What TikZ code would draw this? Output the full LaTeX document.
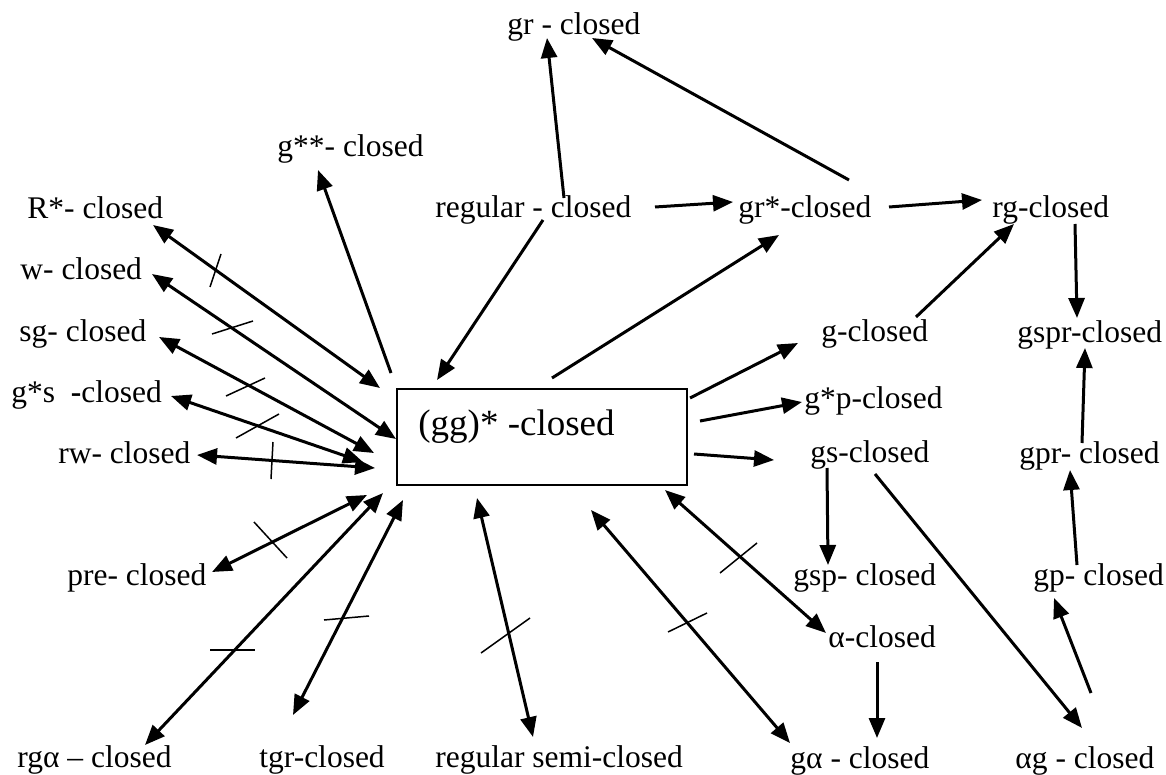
\documentclass[tikz,border=0pt]{standalone}
\usepackage{fontspec}
\setmainfont{Liberation Serif}
\usetikzlibrary{arrows.meta}
\tikzset{
  lbl/.style={font=\fontsize{15.75pt}{18pt}\selectfont, inner sep=0pt, anchor=base west},
  boxtxt/.style={font=\fontsize{18.5pt}{21pt}\selectfont, inner sep=0pt, anchor=base west},
  boxst/.style={draw, line width=1pt, minimum width=145pt, minimum height=48pt, inner sep=0pt},
  arr/.style={line width=1.5pt, -{Triangle[length=10pt,width=8pt]}},
  darr/.style={line width=1.5pt, {Triangle[length=10pt,width=8pt]}-{Triangle[length=10pt,width=8pt]}},
  tick/.style={line width=0.75pt}
}
\begin{document}
\begin{tikzpicture}[x=0.5pt,y=-0.5pt]
\useasboundingbox (0,0) rectangle (1166,775);
% labels
\node[lbl] (Rstar) at (27,219) {R*- closed};
\node[lbl] (w) at (20,279) {w- closed};
\node[lbl] (sg) at (19,341) {sg- closed};
\node[lbl] (gstars) at (11,402) {g*s~~\textbf{-}closed};
\node[lbl] (rw) at (58,463) {rw- closed};
\node[lbl] (pre) at (67,585) {pre- closed};
\node[lbl] (rga) at (17,767) {rgα – closed};
\node[lbl] (tgr) at (259,767) {tgr-closed};
\node[lbl] (rsc) at (435,767) {regular semi-closed};
\node[lbl] (ga) at (790,768) {gα - closed};
\node[lbl] (ag) at (1015,768) {αg - closed};
\node[lbl] (gss) at (277,157) {g**- closed};
\node[lbl] (gr) at (507,35) {gr - closed};
\node[lbl] (reg) at (435,218) {regular - closed};
\node[lbl] (grs) at (738,218) {gr*-closed};
\node[lbl] (rg) at (992,218) {rg-closed};
\node[lbl] (g) at (821,341) {g-closed};
\node[lbl] (gspr) at (1017,342) {gspr-closed};
\node[lbl] (gsp2) at (804,408) {g*p-closed};
\node[lbl] (gs) at (810,462) {gs-closed};
\node[lbl] (gpr) at (1019,463) {gpr- closed};
\node[lbl] (gsp) at (793,585) {gsp- closed};
\node[lbl] (gp) at (1033,585) {gp- closed};
\node[lbl] (alpha) at (828,647) {α-closed};
% central box
\node[boxst] (box) at (542,437) {};
\node[boxtxt] (boxlabel) at (418,435) {(gg)* -closed};
% connector end points
\coordinate (a1) at (153,225); \coordinate (b1) at (380,388);
\coordinate (a2) at (152,274); \coordinate (b2) at (396,439);
\coordinate (a3) at (159,337); \coordinate (b3) at (374,453);
\coordinate (a4) at (171,396); \coordinate (b4) at (363,462);
\coordinate (a5) at (197,455); \coordinate (b5) at (375,468);
\coordinate (a6) at (212,572); \coordinate (b6) at (367,495);
\coordinate (a7) at (145,745); \coordinate (b7) at (383,493);
\coordinate (a8) at (293,715); \coordinate (b8) at (403,500);
\coordinate (a9) at (533,737); \coordinate (b9) at (477,498);
\coordinate (a10) at (790,743); \coordinate (b10) at (591,510);
\coordinate (a11) at (826,633); \coordinate (b11) at (665,490);
% double arrows
\draw[darr] (a1) -- (b1);
\draw[darr] (a2) -- (b2);
\draw[darr] (a3) -- (b3);
\draw[darr] (a4) -- (b4);
\draw[darr] (a5) -- (b5);
\draw[darr] (a6) -- (b6);
\draw[darr] (a7) -- (b7);
\draw[darr] (a8) -- (b8);
\draw[darr] (a9) -- (b9);
\draw[darr] (a10) -- (b10);
\draw[darr] (a11) -- (b11);
% ticks
\draw[tick] (210,287) -- (221,254);
\draw[tick] (212,334) -- (253,321);
\draw[tick] (226,396) -- (265,378);
\draw[tick] (236,438) -- (279,414);
\draw[tick] (271,479) -- (273,442);
\draw[tick] (254,522) -- (287,558);
\draw[tick] (210,650) -- (255,650);
\draw[tick] (324,620) -- (369,616);
\draw[tick] (481,653) -- (530,618);
\draw[tick] (668,632) -- (707,613);
\draw[tick] (720,573) -- (757,543);
% single arrows
\coordinate (s12) at (391,373); \coordinate (t12) at (318,170);
\coordinate (s13) at (543,220); \coordinate (t13) at (437,380);
\coordinate (s14) at (552,378); \coordinate (t14) at (779,235);
\coordinate (s15) at (564,198); \coordinate (t15) at (547,38);
\coordinate (s16) at (849,180); \coordinate (t16) at (592,38);
\coordinate (s17) at (655,207); \coordinate (t17) at (733,202);
\coordinate (s18) at (889,207); \coordinate (t18) at (982,200);
\coordinate (s19) at (916,317); \coordinate (t19) at (1014,224);
\coordinate (s20) at (1075,224); \coordinate (t20) at (1077,318);
\coordinate (s21) at (1082,443); \coordinate (t21) at (1085,348);
\coordinate (s22) at (1077,565); \coordinate (t22) at (1070,470);
\coordinate (s23) at (1091,693); \coordinate (t23) at (1054,598);
\coordinate (s24) at (875,474); \coordinate (t24) at (1082,728);
\coordinate (s25) at (877,662); \coordinate (t25) at (877,738);
\coordinate (s26) at (827,468); \coordinate (t26) at (828,565);
\coordinate (s27) at (690,398); \coordinate (t27) at (798,343);
\coordinate (s28) at (700,421); \coordinate (t28) at (802,402);
\coordinate (s29) at (694,454); \coordinate (t29) at (774,460);
\foreach \i in {12,...,29} { \draw[arr] (s\i) -- (t\i); }
\end{tikzpicture}
\end{document}
